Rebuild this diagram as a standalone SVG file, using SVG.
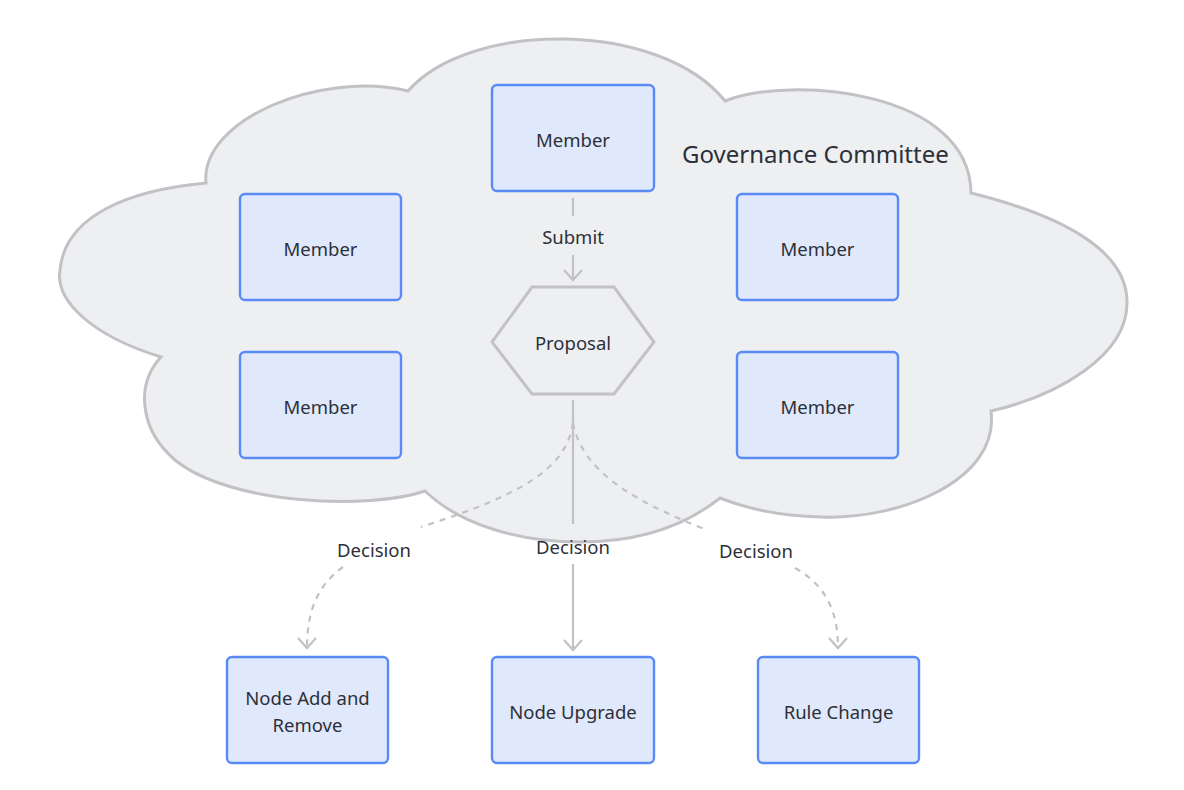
<svg xmlns="http://www.w3.org/2000/svg" width="1184" height="790" viewBox="0 0 1184 790">
<style>
  .node rect { fill: #e0e8fc; stroke: #5a8af5; stroke-width: 2.4; }
  .lbl { font-family: "Noto Sans", "Open Sans", sans-serif; font-size: 18.5px; fill: #2d3038; text-anchor: middle; dominant-baseline: central; }
  .edge { fill: none; stroke: #c2c2c6; stroke-width: 2.2; }
  .dash { stroke-dasharray: 6 6; }
</style>
<defs>
  <marker id="arrow" viewBox="0 0 20 20" refX="18" refY="10" markerWidth="20" markerHeight="20" markerUnits="userSpaceOnUse" orient="auto">
    <path d="M8,1 L18,10 L8,19" fill="none" stroke="#c2c2c6" stroke-width="2.2"/>
  </marker>
</defs>
<rect width="1184" height="790" fill="#ffffff"/>
<g id="cloud">
  <path d="M206,183 C200,120 320,70 408,91 C470,20 660,20 725,101 C790,75 970,90 971,193 C1060,215 1128,250 1127,303 C1127,355 1060,395 991,411 C1000,480 900,520 821,517 C780,516 745,508 720,498 C680,530 630,542 580,542 C520,542 460,525 425,491 C370,510 230,505 175,460 C140,430 135,385 161,357 C90,335 55,300 60,270 C65,215 130,190 206,183 Z" fill="#eeeff1" stroke="#c2c2c6" stroke-width="3"/>
  <text class="lbl" x="682" y="153" style="font-size:24px;text-anchor:start">Governance Committee</text>
</g>
<g id="connectors">
  <path class="edge" d="M573,198 L573,216"/>
  <path class="edge" d="M573,255 L573,280" marker-end="url(#arrow)"/>
  <text class="lbl" x="573" y="236">Submit</text>
  <path class="edge" d="M573,400 L573,524"/>
  <path class="edge" d="M573,564 L573,650" marker-end="url(#arrow)"/>
  <text class="lbl" x="573" y="546">Decision</text>
  <path class="edge dash" d="M573,423 C566,470 520,495 421,527"/>
  <path class="edge dash" d="M343,567 C318,585 307,610 307,648" marker-end="url(#arrow)"/>
  <text class="lbl" x="374" y="549">Decision</text>
  <path class="edge dash" d="M573,423 C582,470 630,500 707,530"/>
  <path class="edge dash" d="M795,568 C825,585 838,610 838,648" marker-end="url(#arrow)"/>
  <text class="lbl" x="756" y="550">Decision</text>
</g>
<g id="member-top" class="node"><rect x="492" y="85" width="162" height="106" rx="5"/><text class="lbl" x="573" y="139">Member</text></g>
<g id="member-left-1" class="node"><rect x="240" y="194" width="161" height="106" rx="5"/><text class="lbl" x="320.5" y="248">Member</text></g>
<g id="member-left-2" class="node"><rect x="240" y="352" width="161" height="106" rx="5"/><text class="lbl" x="320.5" y="406">Member</text></g>
<g id="member-right-1" class="node"><rect x="737" y="194" width="161" height="106" rx="5"/><text class="lbl" x="817.5" y="248">Member</text></g>
<g id="member-right-2" class="node"><rect x="737" y="352" width="161" height="106" rx="5"/><text class="lbl" x="817.5" y="406">Member</text></g>
<g id="proposal"><polygon points="492,342 532,287 614,287 654,342 614,394 532,394" fill="#eeeff1" stroke="#c2c2c6" stroke-width="3"/><text class="lbl" x="573" y="342">Proposal</text></g>
<g id="node-add-remove" class="node"><rect x="227" y="657" width="161" height="106" rx="5"/><text class="lbl" x="307.5" y="697">Node Add and</text><text class="lbl" x="307.5" y="724">Remove</text></g>
<g id="node-upgrade" class="node"><rect x="492" y="657" width="162" height="106" rx="5"/><text class="lbl" x="573" y="711">Node Upgrade</text></g>
<g id="rule-change" class="node"><rect x="758" y="657" width="161" height="106" rx="5"/><text class="lbl" x="838.5" y="711">Rule Change</text></g>
</svg>
